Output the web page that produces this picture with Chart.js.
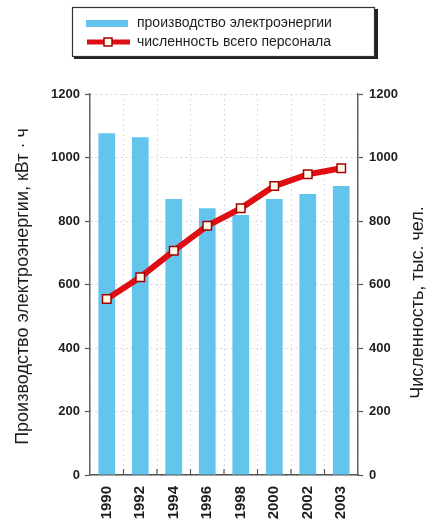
<!DOCTYPE html>
<html>
<head>
<meta charset="utf-8">
<script src="https://cdn.jsdelivr.net/npm/chart.js@4"></script>
<style>
  html, body { margin: 0; padding: 0; background: #fff; }
  #wrap { width: 431px; height: 523px; position: relative; }
</style>
</head>
<body>
<div id="wrap"><canvas id="c"></canvas></div>
<script>
const categories = ['1990', '1992', '1994', '1996', '1998', '2000', '2002', '2003'];
const productionValues = [1076, 1064, 869, 840, 819, 869, 885, 910];
const personnelValues = [554, 623, 706, 785, 840, 910, 947, 966];
const yTicks = [0, 200, 400, 600, 800, 1000, 1200];
const seriesLabels = ['производство электроэнергии', 'численность всего персонала'];
const leftTitle = 'Производство электроэнергии, кВт · ч';
const rightTitle = 'Численность, тыс. чел.';

const BAR_COLOR = '#63c4ec';
const LINE_COLOR = '#e00d12';
const TEXT_COLOR = '#1e1e1e';
const FONT = '"Liberation Sans", Arial, sans-serif';

const legendPlugin = {
  id: 'customLegend',
  afterDraw(chart) {
    const ctx = chart.ctx;
    ctx.save();
    ctx.fillStyle = '#222';
    ctx.fillRect(74, 56, 304, 3);
    ctx.fillRect(375, 9, 3, 50);
    ctx.fillStyle = '#fff';
    ctx.fillRect(72, 7, 303, 50);
    ctx.strokeStyle = '#333';
    ctx.lineWidth = 1.2;
    ctx.strokeRect(72.5, 7.5, 302, 49);
    ctx.fillStyle = BAR_COLOR;
    ctx.fillRect(86, 20, 42, 7);
    ctx.strokeStyle = LINE_COLOR;
    ctx.lineWidth = 5;
    ctx.beginPath();
    ctx.moveTo(87, 42);
    ctx.lineTo(130, 42);
    ctx.stroke();
    ctx.fillStyle = '#fffbe8';
    ctx.strokeStyle = '#a00';
    ctx.lineWidth = 1.5;
    ctx.fillRect(104, 38, 8, 8);
    ctx.strokeRect(104, 38, 8, 8);
    ctx.fillStyle = TEXT_COLOR;
    ctx.font = '14px ' + FONT;
    ctx.textBaseline = 'middle';
    ctx.textAlign = 'left';
    ctx.fillText(seriesLabels[0], 137, 23);
    ctx.fillText(seriesLabels[1], 137, 42);
    ctx.restore();
  }
};

const titlesPlugin = {
  id: 'axisTitles',
  afterDraw(chart) {
    const ctx = chart.ctx;
    const ca = chart.chartArea;
    ctx.save();
    ctx.fillStyle = TEXT_COLOR;
    ctx.font = '18px ' + FONT;
    ctx.textAlign = 'center';
    ctx.textBaseline = 'middle';
    ctx.save();
    ctx.translate(23, (ca.top + ca.bottom) / 2 + 2);
    ctx.rotate(-Math.PI / 2);
    ctx.fillText(leftTitle, 0, 0);
    ctx.restore();
    ctx.save();
    ctx.translate(418, (ca.top + ca.bottom) / 2 + 18);
    ctx.rotate(-Math.PI / 2);
    ctx.fillText(rightTitle, 0, 0);
    ctx.restore();
    ctx.restore();
  }
};

const xTickMarks = {
  id: 'xTickMarks',
  afterDatasetsDraw(chart) {
    const ctx = chart.ctx;
    const xs = chart.scales.x;
    const bottom = chart.chartArea.bottom;
    ctx.save();
    ctx.strokeStyle = '#555';
    ctx.lineWidth = 1.2;
    for (let i = 1; i < categories.length; i++) {
      const x = (xs.getPixelForValue(i - 1) + xs.getPixelForValue(i)) / 2;
      ctx.beginPath();
      ctx.moveTo(x, bottom - 6);
      ctx.lineTo(x, bottom);
      ctx.stroke();
    }
    ctx.restore();
  }
};

const plainTick = v => String(v);

new Chart(document.getElementById('c'), {
  data: {
    labels: categories,
    datasets: [
      {
        type: 'line',
        label: seriesLabels[1],
        data: personnelValues,
        yAxisID: 'y2',
        order: 1,
        borderColor: LINE_COLOR,
        borderWidth: 6,
        pointStyle: 'rect',
        pointRadius: 6,
        pointBackgroundColor: '#fffbe8',
        pointBorderColor: '#a30000',
        pointBorderWidth: 1.5,
        tension: 0
      },
      {
        type: 'bar',
        label: seriesLabels[0],
        data: productionValues,
        yAxisID: 'y',
        order: 2,
        backgroundColor: BAR_COLOR,
        barPercentage: 0.5,
        categoryPercentage: 1.0
      }
    ]
  },
  options: {
    responsive: true,
    maintainAspectRatio: false,
    animation: false,
    layout: { padding: { top: 94, left: 0, right: 0, bottom: 0 } },
    plugins: {
      legend: { display: false },
      tooltip: { enabled: false }
    },
    scales: {
      x: {
        offset: true,
        grid: {
          color: '#dcdcdc',
          lineWidth: 1,
          drawTicks: false,
          tickLength: 0
        },
        border: { color: '#555', width: 1.5, dash: [2, 3] },
        ticks: {
          color: TEXT_COLOR,
          font: { family: FONT, size: 15, weight: 'bold' },
          minRotation: 90,
          maxRotation: 90,
          padding: 11
        },
        afterFit(scale) { scale.height = 48; }
      },
      y: {
        position: 'left',
        min: 0,
        max: 1200,
        afterBuildTicks(scale) { scale.ticks = yTicks.map(v => ({ value: v })); },
        grid: {
          color: '#d4d4d4',
          lineWidth: 1,
          tickLength: 5,
          tickColor: '#555',
          tickWidth: 1.2
        },
        border: { color: '#666', width: 1.5, dash: [2, 3] },
        ticks: {
          color: TEXT_COLOR,
          font: { family: FONT, size: 13, weight: 'bold' },
          padding: 5,
          callback: plainTick
        },
        afterFit(scale) { scale.width = 90; }
      },
      y2: {
        position: 'right',
        min: 0,
        max: 1200,
        afterBuildTicks(scale) { scale.ticks = yTicks.map(v => ({ value: v })); },
        grid: {
          drawOnChartArea: false,
          tickLength: 5,
          tickColor: '#555',
          tickWidth: 1.2
        },
        border: { color: '#666', width: 1.5 },
        ticks: {
          color: TEXT_COLOR,
          font: { family: FONT, size: 13, weight: 'bold' },
          padding: 6,
          callback: plainTick
        },
        afterFit(scale) { scale.width = 73; }
      }
    }
  },
  plugins: [legendPlugin, titlesPlugin, xTickMarks]
});
</script>
</body>
</html>
